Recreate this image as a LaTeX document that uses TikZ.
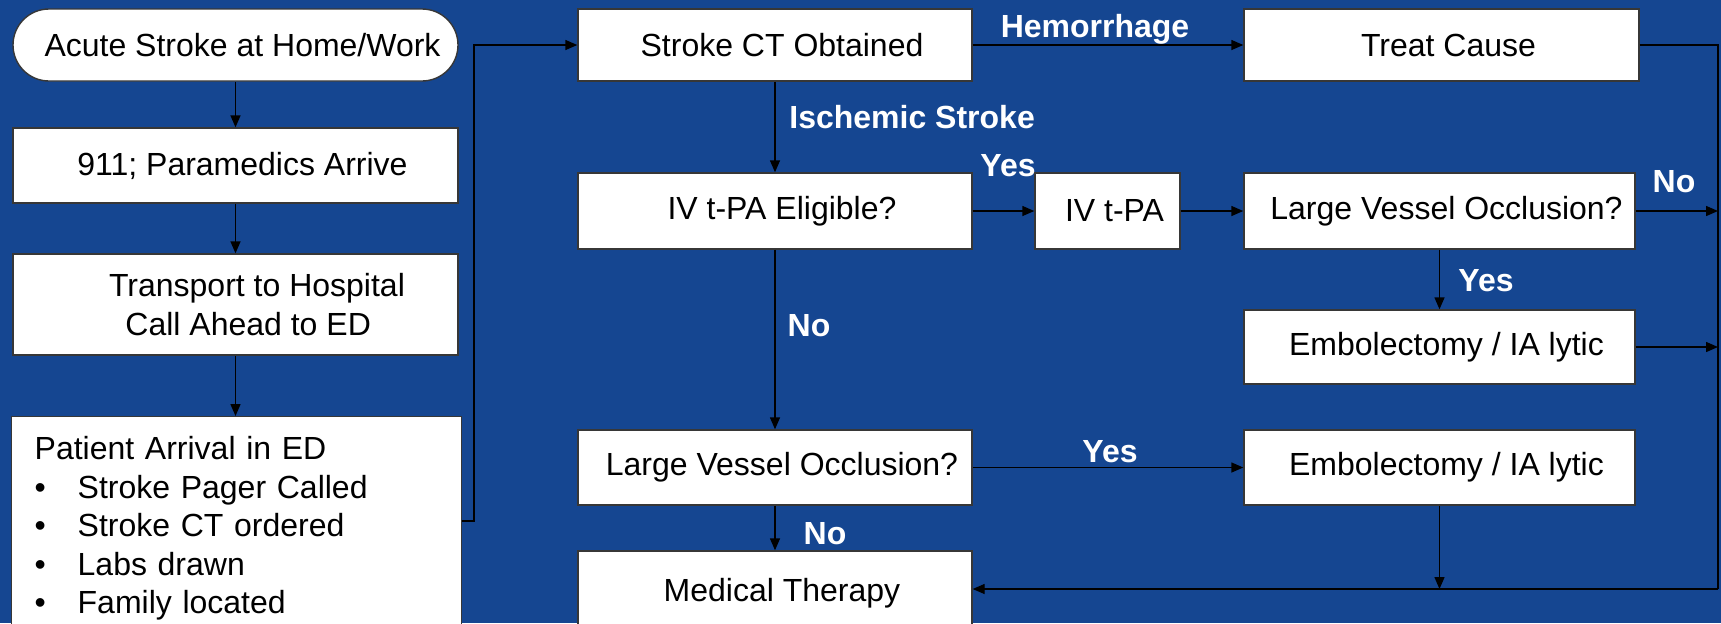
\documentclass[tikz,border=0pt]{standalone}
\usepackage{fontspec}
\setmainfont{Liberation Sans}
\usepackage{tikz}
\usetikzlibrary{arrows.meta,positioning}
\definecolor{slideBlue}{RGB}{21,70,145}
\definecolor{boxLine}{RGB}{55,55,55}

\begin{document}
\begin{tikzpicture}[x=0.5pt,y=-0.5pt,
    frame/.style={draw=boxLine,line width=0.7pt,fill=white,inner sep=0pt},
    box/.style={frame,align=center,font=\fontsize{16}{19.75}\selectfont,
      execute at begin node={\hspace*{7pt}}},
    lbl/.style={font=\fontsize{16}{19}\selectfont\bfseries,text=white,inner sep=0pt,anchor=base},
    link/.style={line width=0.7pt,draw=black},
    flow/.style={link,-{Triangle[length=6pt,width=5pt]}}]
  \useasboundingbox (0,0) rectangle (1721,623);
  \fill[slideBlue] (0,0) rectangle (1721,623);

  % pre-hospital column
  \node[box,rounded corners=18pt,minimum width=222.5pt,minimum height=36pt] (acute) at (235.5,45) {Acute Stroke at Home/Work};
  \node[box,minimum width=222.5pt,minimum height=37.5pt] (para) at (235.5,165.5) {911; Paramedics Arrive};
  \node[box,minimum width=222.5pt,minimum height=50.5pt] (transport) at (235.5,304.5) {\hspace*{14.5pt}Transport to Hospital\\\hspace*{5.7pt}Call Ahead to ED};
  \node[frame,anchor=north west,align=left,text width=202pt,inner xsep=11.5pt,minimum height=112pt,
    font=\fontsize{16}{19.25}\selectfont] (arrival) at (11,416)
    {Patient Arrival in ED\\
     \makebox[21.5pt][l]{•}Stroke Pager Called\\
     \makebox[21.5pt][l]{•}Stroke CT ordered\\
     \makebox[21.5pt][l]{•}Labs drawn\\
     \makebox[21.5pt][l]{•}Family located};

  % hospital decisions
  \node[box,minimum width=197pt,minimum height=36pt] (ct) at (775,45) {Stroke CT Obtained};
  \node[box,minimum width=197.5pt,minimum height=36pt] (treat) at (1441.5,45) {Treat Cause};
  \node[box,minimum width=197pt,minimum height=38pt] (elig) at (775,211) {IV t-PA Eligible?};
  \node[box,minimum width=72.5pt,minimum height=38pt] (ivtpa) at (1107.5,211) {IV t-PA};
  \node[box,minimum width=195.5pt,minimum height=38pt] (lvoA) at (1439.5,211) {Large Vessel Occlusion?};
  \node[box,minimum width=195.5pt,minimum height=37pt] (embA) at (1439.5,347) {Embolectomy / IA lytic};
  \node[box,minimum width=197pt,minimum height=37.5pt] (lvoB) at (775,467.5) {Large Vessel Occlusion?};
  \node[box,minimum width=195.5pt,minimum height=37.5pt] (embB) at (1439.5,467.5) {Embolectomy / IA lytic};
  \node[box,minimum width=197pt,minimum height=42pt] (medical) at (775,593) {Medical Therapy};

  % branch labels
  \node[lbl] (hemLbl) at (1095,37) {Hemorrhage};
  \node[lbl,anchor=base west] (ischLbl) at (789,128) {Ischemic Stroke};
  \node[lbl] (yesA) at (1008,176) {Yes};
  \node[lbl] (noA) at (1674,192) {No};
  \node[lbl] (yesB) at (1486,291) {Yes};
  \node[lbl] (noB) at (809,336) {No};
  \node[lbl] (yesC) at (1110,462) {Yes};
  \node[lbl] (noC) at (825,544) {No};

  % connectors
  \coordinate (bend) at (474,521);
  \coordinate (rtop) at (1718,45);
  \coordinate (rbot) at (1718,589);
  \draw[flow] (acute) -- (para);
  \draw[flow] (para) -- (transport);
  \draw[flow] (transport.south) -- (transport.south |- arrival.north);
  \draw[flow] (arrival.east |- bend) -- (bend) |- (ct.west);
  \draw[flow] (ct) -- (treat);
  \draw[flow] (ct) -- (elig);
  \draw[flow] (elig) -- (ivtpa);
  \draw[flow] (ivtpa) -- (lvoA);
  \draw[flow] (lvoA.east) -- (rtop |- lvoA.east);
  \draw[flow] (lvoA) -- (embA);
  \draw[flow] (embA.east) -- (rtop |- embA.east);
  \draw[flow] (elig) -- (lvoB);
  \draw[flow] (lvoB) -- (embB);
  \draw[flow] (lvoB) -- (medical);
  \draw[flow] (embB.south) -- (embB.south |- rbot);
  \draw[link] (treat.east) -- (rtop) -- (rbot);
  \draw[flow] (rbot) -- (medical.east |- rbot);
\end{tikzpicture}
\end{document}
